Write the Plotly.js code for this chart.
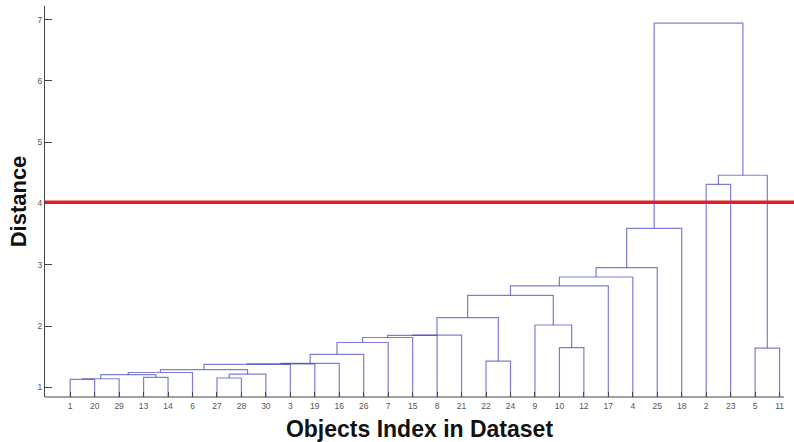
<!DOCTYPE html>
<html>
<head>
<meta charset="utf-8">
<script src="https://cdn.plot.ly/plotly-3.0.1.min.js"></script>
<style>html,body{margin:0;padding:0;background:#fff;}#chart{width:794px;height:442px;}</style>
</head>
<body>
<div id="chart"></div>
<script>
// Leaf labels in the order drawn along the x axis
const leafOrder = [1,20,29,13,14,6,27,28,30,3,19,16,26,7,15,8,21,22,24,9,10,12,17,4,25,18,2,23,5,11];
// Linkage (objects 1..30, clusters numbered 31.. in merge order)
const mergeA = [1,31,27,13,32,33,35,37,38,39,40,22,41,5,10,43,46,47,48,9,49,51,52,53,54,55,2,57,56];
const mergeB = [20,29,28,14,34,30,6,36,3,19,16,24,26,11,12,7,15,8,21,45,42,50,17,4,25,18,23,44,58];
const mergeHeight = [1.131,1.140,1.152,1.163,1.206,1.214,1.242,1.290,1.375,1.381,1.392,1.429,1.539,1.641,1.647,1.731,1.813,1.849,1.853,2.017,2.136,2.500,2.655,2.800,2.952,3.595,4.313,4.460,6.944];
const cutoff = 4.02;
const yTicks = [1,2,3,4,5,6,7];

const nLeaves = leafOrder.length;
const nodeX = {}, nodeY = {};
leafOrder.forEach((obj, i) => { nodeX[obj] = i + 1; nodeY[obj] = 0; });

const traces = [];
for (let k = 0; k < mergeHeight.length; k++) {
  const a = mergeA[k], b = mergeB[k], h = mergeHeight[k];
  const id = nLeaves + 1 + k;
  traces.push({
    type: 'scatter', mode: 'lines',
    x: [nodeX[a], nodeX[a], nodeX[b], nodeX[b]],
    y: [nodeY[a], h, h, nodeY[b]],
    line: {color: 'rgba(40,40,190,0.6)', width: 1.2},
    hoverinfo: 'skip', showlegend: false
  });
  nodeX[id] = (nodeX[a] + nodeX[b]) / 2;
  nodeY[id] = h;
}

const layout = {
  width: 794, height: 442,
  margin: {l: 45, r: 0, t: 6, b: 45},
  paper_bgcolor: '#fff', plot_bgcolor: '#fff',
  font: {family: 'Arial, "Liberation Sans", sans-serif', color: '#555'},
  xaxis: {
    range: [-0.03, 30.59],
    tickvals: leafOrder.map((v, i) => i + 1),
    ticktext: leafOrder.map(String),
    ticks: 'inside', ticklen: 5, tickcolor: '#444', tickwidth: 1,
    ticklabelstandoff: 2,
    tickfont: {size: 8.5, color: '#555'},
    showgrid: false, zeroline: false, showline: false,
    title: {text: 'Objects Index in Dataset', font: {size: 23, color: '#111', family: 'Arial, "Liberation Sans", sans-serif', weight: 'bold'}, standoff: 13}
  },
  yaxis: {
    range: [0.842, 7.222],
    tickvals: yTicks,
    ticks: 'inside', ticklen: 7, tickcolor: '#444', tickwidth: 1,
    tickfont: {size: 8.5, color: '#555'},
    showgrid: false, zeroline: false, showline: true, linecolor: '#444', linewidth: 1,
    title: {text: 'Distance', font: {size: 22, color: '#111', family: 'Arial, "Liberation Sans", sans-serif', weight: 'bold'}, standoff: 4}
  },
  shapes: [
    {type: 'line', xref: 'paper', yref: 'paper', x0: 0, x1: 0.9866, y0: 0, y1: 0, line: {color: '#444', width: 1}},
    {type: 'line', xref: 'paper', yref: 'y', x0: 0, x1: 1, y0: cutoff, y1: cutoff, line: {color: 'rgb(228,30,38)', width: 3.5}, layer: 'above'}
  ]
};

Plotly.newPlot('chart', traces, layout, {displayModeBar: false, staticPlot: true});
</script>
</body>
</html>
